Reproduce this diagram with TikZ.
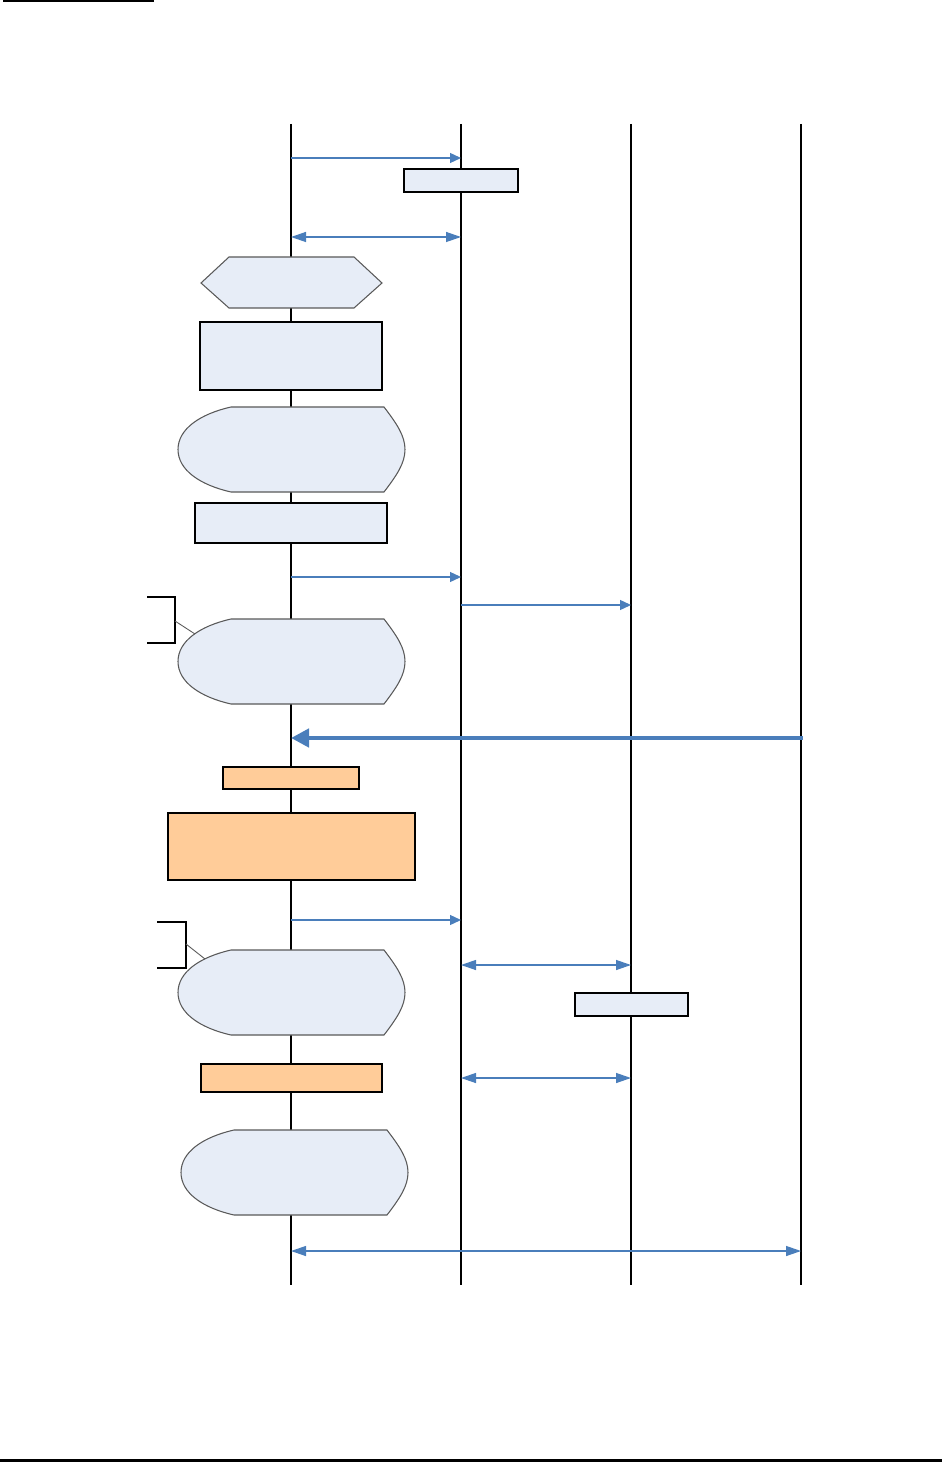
\documentclass[tikz,border=0pt]{standalone}
\usetikzlibrary{arrows.meta,calc}

\definecolor{msgblue}{HTML}{4A7EBB}
\definecolor{boxblue}{HTML}{E7EDF7}
\definecolor{boxorange}{HTML}{FFCC99}
\definecolor{edgegray}{HTML}{595959}

\begin{document}
\begin{tikzpicture}[
  x=0.02cm, y=-0.02cm,
  lifeline/.style={black, line width=0.75pt},
  lifelinebold/.style={black, line width=1.1pt},
  msg/.style={msgblue, line width=0.75pt, -{Triangle[length=2.2mm, width=2mm]}},
  msgboth/.style={msgblue, line width=0.75pt,
    {Triangle[length=3mm, width=2mm]}-{Triangle[length=3mm, width=2mm]}},
  msgbig/.style={msgblue, line width=2.8pt, -{Triangle[length=3.6mm, width=3.6mm]}},
  bluebox/.style={draw=black, fill=boxblue, line width=0.75pt, inner sep=0pt},
  orangebox/.style={draw=black, fill=boxorange, line width=0.75pt, inner sep=0pt},
  blob/.style={draw=edgegray, fill=boxblue, line width=0.6pt},
  bracket/.style={black, line width=0.75pt},
  leader/.style={edgegray, line width=0.5pt},
  pagerule/.style={black, line width=#1}
]

% ---------- rounded state shape ----------
\newcommand{\placeBlob}[1]{% #1 = top-left corner
  \draw[blob] ($(#1)+(53,0)$) -- ($(#1)+(206,0)$)
    .. controls ($(#1)+(219,17)$) and ($(#1)+(227,29)$) .. ($(#1)+(227,42.5)$)
    .. controls ($(#1)+(227,56)$) and ($(#1)+(219,68)$) .. ($(#1)+(206,85)$)
    -- ($(#1)+(53,85)$)
    .. controls ($(#1)+(22,78)$) and ($(#1)+(0,63)$) .. ($(#1)+(0,42.5)$)
    .. controls ($(#1)+(0,22)$) and ($(#1)+(22,7)$) .. cycle;
}

\useasboundingbox (0,0) rectangle (942,1462);

% page rules
\draw[pagerule=1.1pt] (3,1) -- (154,1);
\draw[pagerule=1.7pt] (0,1460.5) -- (942,1460.5);

% ---------- lifelines ----------
\coordinate (Atop) at (291,124); \coordinate (Abot) at (291,1285);
\coordinate (Btop) at (461,124); \coordinate (Bbot) at (461,1285);
\coordinate (Ctop) at (631,124); \coordinate (Cbot) at (631,1285);
\coordinate (Dtop) at (801,124); \coordinate (Dbot) at (801,1285);
\draw[lifeline] (Atop) -- (Abot);
\draw[lifeline] (Btop) -- (Bbot);
\draw[lifelinebold] (Ctop) -- (Cbot);
\draw[lifelinebold] (Dtop) -- (Dbot);

% ---------- boxes on the lifelines ----------
\node[bluebox, minimum width=2.28cm, minimum height=0.46cm] (chkB) at (461,180.5) {};
\draw[blob] (201,283) -- (229,257) -- (354,257) -- (382,283)
  -- (354,308) -- (229,308) -- cycle;
\node[bluebox, minimum width=3.64cm, minimum height=1.36cm] (taskA) at (291,356) {};
\coordinate (blobA) at (178,407);
\placeBlob{blobA}
\node[bluebox, minimum width=3.84cm, minimum height=0.8cm] (stepA) at (291,523) {};
\coordinate (blobB) at (178,619);
\placeBlob{blobB}
\node[orangebox, minimum width=2.72cm, minimum height=0.44cm] (timerA) at (291,778) {};
\node[orangebox, minimum width=4.94cm, minimum height=1.34cm] (actA) at (291.5,846.5) {};
\coordinate (blobC) at (178,950);
\placeBlob{blobC}
\node[bluebox, minimum width=2.26cm, minimum height=0.46cm] (chkC) at (631.5,1004.5) {};
\node[orangebox, minimum width=3.62cm, minimum height=0.56cm] (timerB) at (291.5,1078) {};
\coordinate (blobD) at (181,1130);
\placeBlob{blobD}

% ---------- brackets ----------
\draw[bracket] (147,597) -- (175,597) -- (175,643) -- (147,643);
\coordinate (brA) at (175,621);
\draw[leader] (brA) -- ($(blobB)+(17,15)$);
\draw[bracket] (157,922) -- (186,922) -- (186,968) -- (157,968);
\coordinate (brB) at (186,944);
\draw[leader] (brB) -- ($(blobC)+(27,9)$);

% ---------- messages ----------
\coordinate (m1s) at (291,158);  \coordinate (m1e) at (461,158);
\coordinate (m2s) at (291,237);  \coordinate (m2e) at (461,237);
\coordinate (m3s) at (291,577);  \coordinate (m3e) at (461,577);
\coordinate (m4s) at (461,605);  \coordinate (m4e) at (631,605);
\coordinate (m5s) at (803,738);  \coordinate (m5e) at (291,738);
\coordinate (m6s) at (291,920);  \coordinate (m6e) at (461,920);
\coordinate (m7s) at (461,965);  \coordinate (m7e) at (631,965);
\coordinate (m8s) at (461,1078); \coordinate (m8e) at (631,1078);
\coordinate (m9s) at (291,1251); \coordinate (m9e) at (801,1251);

\draw[msg] (m1s) -- (m1e);
\draw[msgboth] (m2s) -- (m2e);
\draw[msg] (m3s) -- (m3e);
\draw[msg] (m4s) -- (m4e);
\draw[msgbig] (m5s) -- (m5e);
\draw[msg] (m6s) -- (m6e);
\draw[msgboth] (m7s) -- (m7e);
\draw[msgboth] (m8s) -- (m8e);
\draw[msgboth] (m9s) -- (m9e);
\end{tikzpicture}
\end{document}
